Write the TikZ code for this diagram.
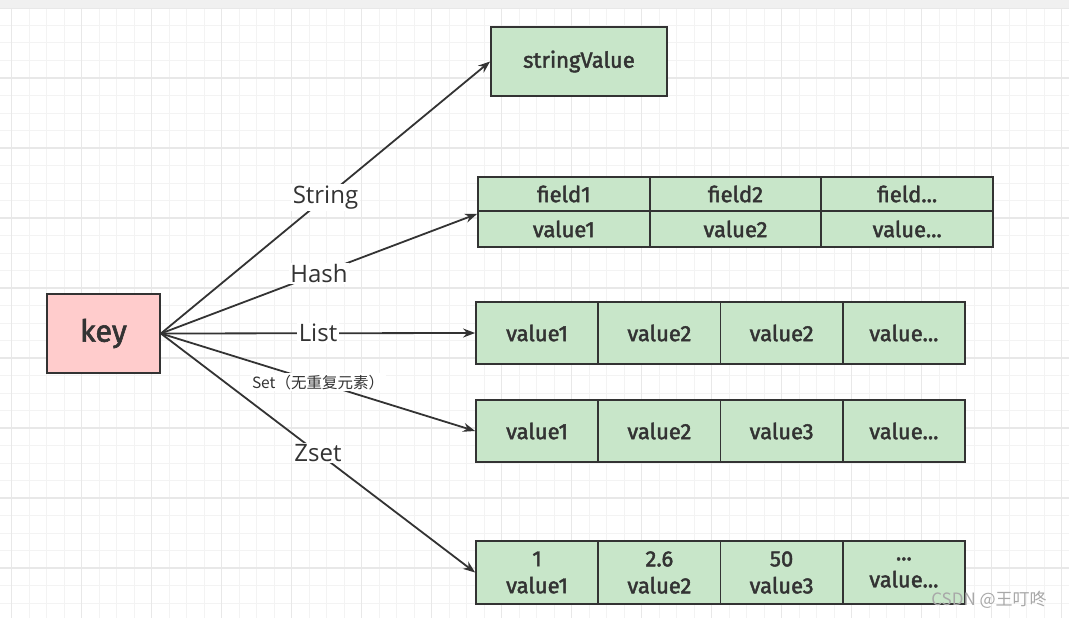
\documentclass[tikz,border=0pt]{standalone}
\usepackage{fontspec}
\setmainfont{Open Sans}
\newfontfamily\boxfont{Fira Sans}[AutoFakeBold=2]
\newfontfamily\cjk{Noto Sans CJK SC}
\usetikzlibrary{arrows.meta,calc}
\newcommand\mydots{...}
\definecolor{gridminor}{HTML}{F3F3F3}
\definecolor{gridmajor}{HTML}{E8E8E8}
\definecolor{topbar}{HTML}{F0F0F0}
\definecolor{ink}{HTML}{333333}
\definecolor{cellgreen}{HTML}{C8E6C9}
\definecolor{keypink}{HTML}{FFCCCC}
\definecolor{wmark}{HTML}{A8A8A8}
\tikzset{
  cell/.style={draw=ink, line width=1.8pt, fill=cellgreen, text=ink, font=\boxfont\bfseries\fontsize{22}{27}\selectfont, inner sep=0pt, align=center},
  keybox/.style={draw=ink, line width=1.8pt, fill=keypink, text=ink, font=\boxfont\bfseries\fontsize{30.5}{34}\selectfont, minimum width=113pt, minimum height=79pt},
  link/.style={draw=ink, line width=1.8pt, -{Stealth[length=12pt,width=9pt]}},
  lbl/.style={fill=white, text=ink, inner sep=1.5pt, font=\fontsize{24}{28}\selectfont},
}
\begin{document}
\begin{tikzpicture}[x=1pt,y=-1pt]
\useasboundingbox (0,0) rectangle (1069,618);
\fill[white] (0,0) rectangle (1069,618);
% grid
\foreach \i in {0,...,60}{
  \pgfmathsetmacro\xx{11.5+17.5*\i}
  \draw[gridminor, line width=1pt] (\xx,8) -- (\xx,618);
}
\foreach \i in {0,...,35}{
  \pgfmathsetmacro\yy{8+17.5*\i}
  \draw[gridminor, line width=1pt] (0,\yy) -- (1069,\yy);
}
\foreach \i in {0,...,15}{
  \pgfmathsetmacro\xx{11.5+70*\i}
  \draw[gridmajor, line width=1.3pt] (\xx,8) -- (\xx,618);
}
\foreach \i in {0,...,8}{
  \pgfmathsetmacro\yy{8+70*\i}
  \draw[gridmajor, line width=1.3pt] (0,\yy) -- (1069,\yy);
}
\fill[topbar] (0,0) rectangle (1069,8);

% key
\node[keybox] (key) at (103.5,333.5) {key};

% string
\node[cell, minimum width=176pt, minimum height=69pt] (str) at (579,61.5) {stringValue};

% hash
\foreach \n/\f/\v [count=\i from 0] in {1/field1/value1,2/field2/value2,3/field\mydots/value\mydots}{
  \pgfmathsetmacro\cx{478+171.67*(\i+0.5)}
  \node[cell, minimum width=171.67pt, minimum height=34pt] (hf\n) at (\cx,194) {\f};
  \node[cell, minimum width=171.67pt, minimum height=36pt] (hv\n) at (\cx,229) {\v};
}

% list
\foreach \n/\t [count=\i from 0] in {1/value1,2/value2,3/value2,4/value\mydots}{
  \pgfmathsetmacro\cx{476+122.25*(\i+0.5)}
  \node[cell, minimum width=122.25pt, minimum height=62pt] (l\n) at (\cx,333) {\t};
}

% set
\foreach \n/\t [count=\i from 0] in {1/value1,2/value2,3/value3,4/value\mydots}{
  \pgfmathsetmacro\cx{476+122.25*(\i+0.5)}
  \node[cell, minimum width=122.25pt, minimum height=62pt] (s\n) at (\cx,431) {\t};
}

% zset
\foreach \n/\a/\b [count=\i from 0] in {1/1/value1,2/2.6/value2,3/50/value3,4/\mydots/value\mydots}{
  \pgfmathsetmacro\cx{476+122.25*(\i+0.5)}
  \node[cell, minimum width=122.25pt, minimum height=63pt] (z\n) at (\cx,572.5) {\a\\\b};
}

% connectors
\draw[link] (key.east) -- node[lbl] {String} (str.west);
\draw[link] (key.east) -- node[lbl] {Hash} ([yshift=-2pt]hf1.south west);
\draw[link] (key.east) -- node[lbl] {List} (l1.west);
\draw[link] (key.east) -- node[lbl, font=\cjk\fontsize{15.5}{18}\selectfont] {Set（无重复元素）} (s1.west);
\draw[link] (key.east) -- node[lbl] {Zset} (z1.west);

% watermark
\node[text=wmark, font=\cjk\fontsize{17}{20}\selectfont, inner sep=0pt] (wm) at (989,600) {CSDN @王叮咚};
\end{tikzpicture}
\end{document}
